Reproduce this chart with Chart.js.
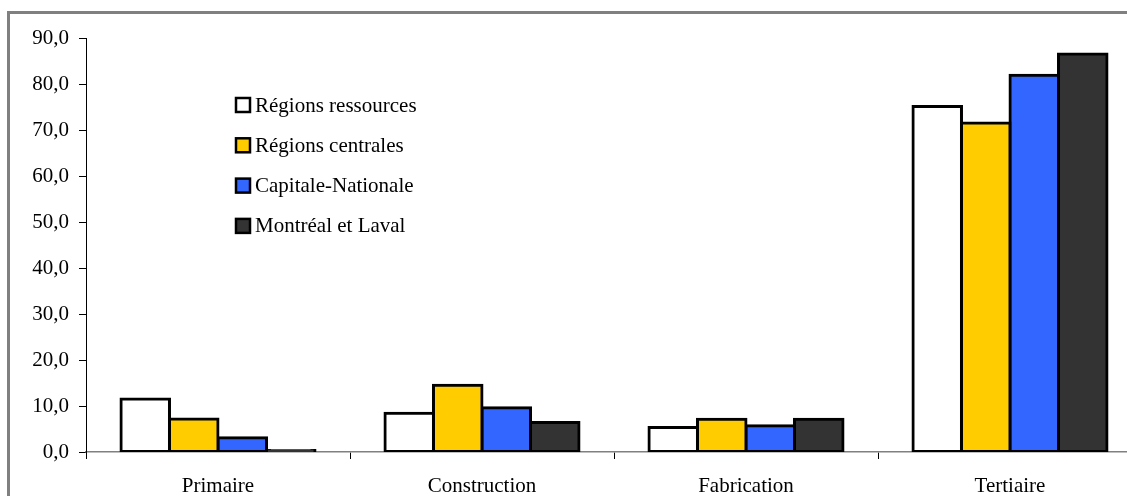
<!DOCTYPE html>
<html>
<head>
<meta charset="utf-8">
<script src="https://cdn.jsdelivr.net/npm/chart.js@4/dist/chart.umd.min.js"></script>
<style>
    html, body { margin: 0; padding: 0; background: #fff; overflow: hidden; }
    #wrap { position: relative; width: 1127px; height: 496px; overflow: hidden; }
    #frame { position: absolute; left: 7px; top: 11px; width: 1200px; height: 600px; border: 3px solid #808080; }
    #chart { position: absolute; left: 0; top: 0; }
</style>
</head>
<body>
<div id="wrap">
    <div id="frame"></div>
    <canvas id="chart" width="1150" height="496"></canvas>
</div>
<script>
// Data
const categories = ['Primaire', 'Construction', 'Fabrication', 'Tertiaire'];
const seriesNames = ['Régions ressources', 'Régions centrales', 'Capitale-Nationale', 'Montréal et Laval'];
const regionsRessources = [11.5, 8.4, 5.3, 75.1];
const regionsCentrales = [7.2, 14.5, 7.1, 71.5];
const capitaleNationale = [3.1, 9.6, 5.7, 81.9];
const montrealLaval = [0.3, 6.4, 7.1, 86.5];
const yTicks = [0, 10, 20, 30, 40, 50, 60, 70, 80, 90];

const colors = ['#ffffff', '#ffcc00', '#3366ff', '#333333'];
const font = '"Liberation Serif", "Times New Roman", serif';

// Legend drawn inside the plot area
const innerLegend = {
    id: 'innerLegend',
    afterDraw(chart) {
        const ctx = chart.ctx;
        ctx.save();
        ctx.font = '21px ' + font;
        ctx.textBaseline = 'middle';
        chart.data.datasets.forEach((ds, i) => {
            const y = 105 + i * 40.3;
            ctx.fillStyle = ds.backgroundColor;
            ctx.fillRect(236, y - 7, 14, 14);
            ctx.lineWidth = 2.5;
            ctx.strokeStyle = '#000';
            ctx.strokeRect(236, y - 7, 14, 14);
            ctx.fillStyle = '#000';
            ctx.fillText(ds.label, 255, y + 1);
        });
        ctx.restore();
    }
};

const datasets = [regionsRessources, regionsCentrales, capitaleNationale, montrealLaval].map((d, i) => ({
    label: seriesNames[i],
    data: d,
    backgroundColor: colors[i],
    borderColor: '#000',
    borderWidth: 3,
    borderSkipped: false,
    inflateAmount: 1.5,
    categoryPercentage: 0.735,
    barPercentage: 1
}));

new Chart(document.getElementById('chart').getContext('2d'), {
    type: 'bar',
    data: { labels: categories, datasets: datasets },
    options: {
        responsive: false,
        animation: false,
        layout: { padding: { top: 38, right: 8, left: 0, bottom: 0 } },
        plugins: {
            legend: { display: false },
            tooltip: { enabled: false }
        },
        scales: {
            x: {
                afterFit(scale) { scale.height = 44; },
                grid: {
                    offset: true,
                    drawOnChartArea: false,
                    drawTicks: true,
                    tickLength: 7,
                    color: '#000'
                },
                border: { color: '#808080', width: 1.5 },
                ticks: {
                    color: '#000',
                    padding: 15,
                    font: { family: font, size: 21 }
                }
            },
            y: {
                min: 0,
                max: 90,
                afterFit(scale) { scale.width = 86; },
                afterBuildTicks(scale) { scale.ticks = yTicks.map(v => ({ value: v })); },
                grid: {
                    drawOnChartArea: false,
                    drawTicks: true,
                    tickLength: 7,
                    color: '#000'
                },
                border: { color: '#000', width: 1 },
                ticks: {
                    color: '#000',
                    padding: 10,
                    font: { family: font, size: 21 },
                    callback: v => v.toFixed(1).replace('.', ',')
                }
            }
        }
    },
    plugins: [innerLegend]
});
</script>
</body>
</html>
